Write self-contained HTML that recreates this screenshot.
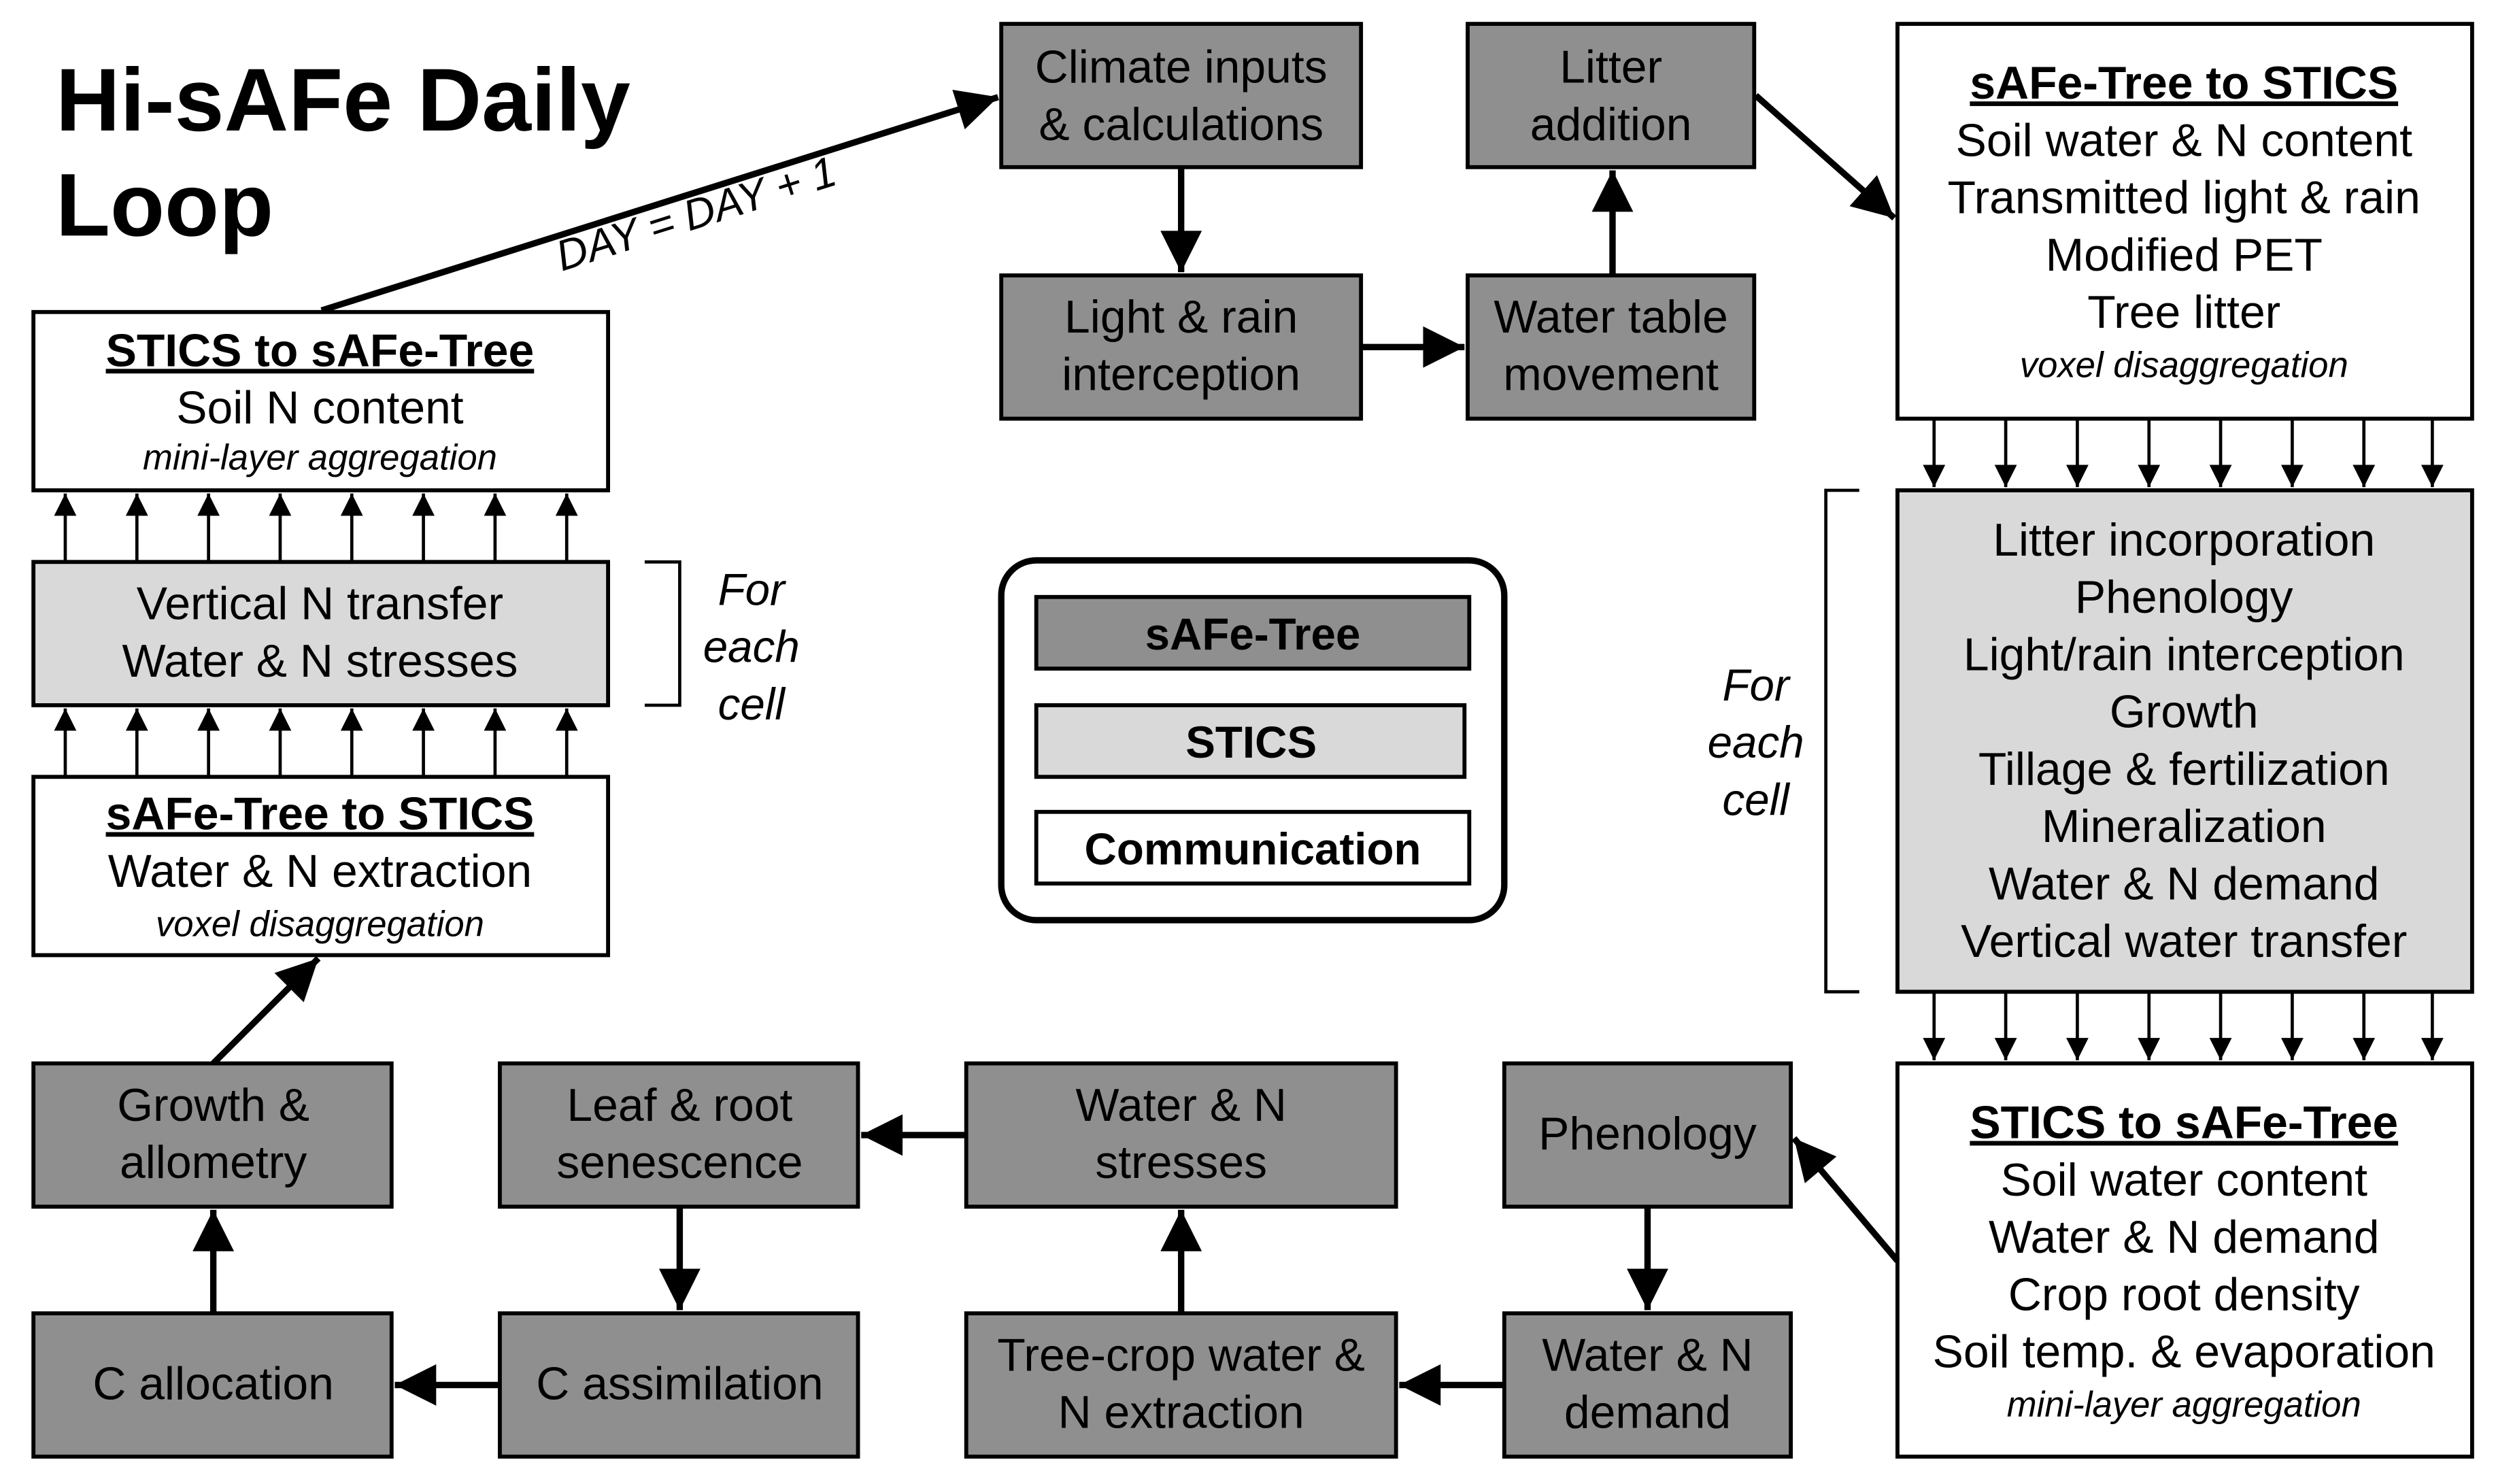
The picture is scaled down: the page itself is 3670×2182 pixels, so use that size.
<!DOCTYPE html>
<html><head><meta charset="utf-8"><style>
html,body{margin:0;padding:0;background:#fff;}
svg{display:block;}
text{font-family:"Liberation Sans",Arial,sans-serif;fill:#000;}
.t{font-size:29px;text-anchor:middle;}
.b{font-size:29px;font-weight:bold;text-anchor:middle;text-decoration:underline;}
.i{font-size:22.5px;font-style:italic;text-anchor:middle;}
.f{font-size:28px;font-style:italic;text-anchor:middle;}
.d{fill:#8f8f8f;stroke:#000;stroke-width:2.5;}
.l{fill:#d9d9d9;stroke:#000;stroke-width:2.5;}
.w{fill:#fff;stroke:#000;stroke-width:2.5;}
.a{stroke:#000;stroke-width:4;fill:none;}
.s{stroke:#000;stroke-width:2;fill:none;}
</style></head><body>
<svg width="3670" height="2182" viewBox="0 0 1568 932.2" preserveAspectRatio="none" xmlns="http://www.w3.org/2000/svg">
<defs>
<marker id="A" viewBox="0 0 10 10" refX="10" refY="5" markerWidth="7.5" markerHeight="6.5" markerUnits="strokeWidth" orient="auto"><path d="M0,0L10,5L0,10z" fill="#000"/></marker>
<marker id="S" viewBox="0 0 10 10" refX="10" refY="5" markerWidth="8" markerHeight="7" markerUnits="strokeWidth" orient="auto"><path d="M0,0L10,5L0,10z" fill="#000"/></marker>
</defs>

<text x="35" y="82" style="font-size:56px;font-weight:bold">Hi-sAFe Daily</text>
<text x="35" y="148" style="font-size:56px;font-weight:bold">Loop</text>

<!-- top row -->
<rect class="d" x="629" y="15" width="226" height="90"/>
<text class="t" x="742" y="52">Climate inputs</text><text class="t" x="742" y="88">&amp; calculations</text>
<rect class="d" x="922" y="15" width="180" height="90"/>
<text class="t" x="1012" y="52">Litter</text><text class="t" x="1012" y="88">addition</text>
<rect class="d" x="629" y="173" width="226" height="90"/>
<text class="t" x="742" y="209">Light &amp; rain</text><text class="t" x="742" y="245">interception</text>
<rect class="d" x="922" y="173" width="180" height="90"/>
<text class="t" x="1012" y="209">Water table</text><text class="t" x="1012" y="245">movement</text>

<!-- right top comm -->
<rect class="w" x="1192" y="15" width="361" height="248"/>
<text class="b" x="1372" y="62">sAFe-Tree to STICS</text>
<text class="t" x="1372" y="98">Soil water &amp; N content</text>
<text class="t" x="1372" y="134">Transmitted light &amp; rain</text>
<text class="t" x="1372" y="170">Modified PET</text>
<text class="t" x="1372" y="206">Tree litter</text>
<text class="i" x="1372" y="237">voxel disaggregation</text>

<!-- right big STICS -->
<rect class="l" x="1192" y="308" width="361" height="315"/>
<text class="t" x="1372" y="349">Litter incorporation</text>
<text class="t" x="1372" y="385">Phenology</text>
<text class="t" x="1372" y="421">Light/rain interception</text>
<text class="t" x="1372" y="457">Growth</text>
<text class="t" x="1372" y="493">Tillage &amp; fertilization</text>
<text class="t" x="1372" y="529">Mineralization</text>
<text class="t" x="1372" y="565">Water &amp; N demand</text>
<text class="t" x="1372" y="601">Vertical water transfer</text>

<!-- right bottom comm -->
<rect class="w" x="1192" y="668" width="361" height="247"/>
<text class="b" x="1372" y="715">STICS to sAFe-Tree</text>
<text class="t" x="1372" y="751">Soil water content</text>
<text class="t" x="1372" y="787">Water &amp; N demand</text>
<text class="t" x="1372" y="823">Crop root density</text>
<text class="t" x="1372" y="859">Soil temp. &amp; evaporation</text>
<text class="i" x="1372" y="890">mini-layer aggregation</text>

<!-- left column -->
<rect class="w" x="21" y="196" width="361" height="112"/>
<text class="b" x="201" y="230">STICS to sAFe-Tree</text>
<text class="t" x="201" y="266">Soil N content</text>
<text class="i" x="201" y="295">mini-layer aggregation</text>
<rect class="l" x="21" y="353" width="361" height="90"/>
<text class="t" x="201" y="389">Vertical N transfer</text>
<text class="t" x="201" y="425">Water &amp; N stresses</text>
<rect class="w" x="21" y="488" width="361" height="112"/>
<text class="b" x="201" y="521">sAFe-Tree to STICS</text>
<text class="t" x="201" y="557">Water &amp; N extraction</text>
<text class="i" x="201" y="588">voxel disaggregation</text>

<!-- legend -->
<rect x="629" y="352" width="316" height="226" rx="22" ry="22" fill="#fff" stroke="#000" stroke-width="4"/>
<rect class="d" x="651" y="375" width="272" height="45"/><text x="787" y="408" style="font-size:28px;font-weight:bold;text-anchor:middle">sAFe-Tree</text>
<rect class="l" x="651" y="443" width="269" height="45"/><text x="786" y="476" style="font-size:28px;font-weight:bold;text-anchor:middle">STICS</text>
<rect class="w" x="651" y="510" width="272" height="45"/><text x="787" y="543" style="font-size:28px;font-weight:bold;text-anchor:middle">Communication</text>

<!-- brackets -->
<path class="s" d="M405,353H427V443H405"/>
<text class="f" x="472" y="380">For</text><text class="f" x="472" y="416">each</text><text class="f" x="472" y="452">cell</text>
<path class="s" d="M1168,308H1147V623H1168"/>
<text class="f" x="1103" y="440">For</text><text class="f" x="1103" y="476">each</text><text class="f" x="1103" y="512">cell</text>

<!-- bottom rows -->
<rect class="d" x="21" y="668" width="225" height="90"/>
<text class="t" x="134" y="704">Growth &amp;</text><text class="t" x="134" y="740">allometry</text>
<rect class="d" x="314" y="668" width="225" height="90"/>
<text class="t" x="427" y="704">Leaf &amp; root</text><text class="t" x="427" y="740">senescence</text>
<rect class="d" x="607" y="668" width="270" height="90"/>
<text class="t" x="742" y="704">Water &amp; N</text><text class="t" x="742" y="740">stresses</text>
<rect class="d" x="945" y="668" width="180" height="90"/>
<text class="t" x="1035" y="722">Phenology</text>
<rect class="d" x="21" y="825" width="225" height="90"/>
<text class="t" x="134" y="879">C allocation</text>
<rect class="d" x="314" y="825" width="225" height="90"/>
<text class="t" x="427" y="879">C assimilation</text>
<rect class="d" x="607" y="825" width="270" height="90"/>
<text class="t" x="742" y="861">Tree-crop water &amp;</text><text class="t" x="742" y="897">N extraction</text>
<rect class="d" x="945" y="825" width="180" height="90"/>
<text class="t" x="1035" y="861">Water &amp; N</text><text class="t" x="1035" y="897">demand</text>

<!-- big arrows -->
<g class="a">
<path d="M202,195L627,61" marker-end="url(#A)"/>
<path d="M742,105V171" marker-end="url(#A)"/>
<path d="M855,218H920" marker-end="url(#A)"/>
<path d="M1013,173V107" marker-end="url(#A)"/>
<path d="M1103,60L1190,137" marker-end="url(#A)"/>
<path d="M1192,792L1127,715" marker-end="url(#A)"/>
<path d="M1035,758V823" marker-end="url(#A)"/>
<path d="M945,870H879" marker-end="url(#A)"/>
<path d="M742,825V760" marker-end="url(#A)"/>
<path d="M607,713H541" marker-end="url(#A)"/>
<path d="M427,758V823" marker-end="url(#A)"/>
<path d="M314,870H248" marker-end="url(#A)"/>
<path d="M134,825V760" marker-end="url(#A)"/>
<path d="M134,668L200,602" marker-end="url(#A)"/>
</g>
<text x="440" y="143" transform="rotate(-17.5 440 143)" style="font-size:27px;font-style:italic;text-anchor:middle">DAY = DAY + 1</text>

<!-- small arrows -->
<g class="s">
<path d="M41,353V310" marker-end="url(#S)"/><path d="M86,353V310" marker-end="url(#S)"/><path d="M131,353V310" marker-end="url(#S)"/><path d="M176,353V310" marker-end="url(#S)"/><path d="M221,353V310" marker-end="url(#S)"/><path d="M266,353V310" marker-end="url(#S)"/><path d="M311,353V310" marker-end="url(#S)"/><path d="M356,353V310" marker-end="url(#S)"/>
<path d="M41,488V445" marker-end="url(#S)"/><path d="M86,488V445" marker-end="url(#S)"/><path d="M131,488V445" marker-end="url(#S)"/><path d="M176,488V445" marker-end="url(#S)"/><path d="M221,488V445" marker-end="url(#S)"/><path d="M266,488V445" marker-end="url(#S)"/><path d="M311,488V445" marker-end="url(#S)"/><path d="M356,488V445" marker-end="url(#S)"/>
<path d="M1215,263V306" marker-end="url(#S)"/><path d="M1260,263V306" marker-end="url(#S)"/><path d="M1305,263V306" marker-end="url(#S)"/><path d="M1350,263V306" marker-end="url(#S)"/><path d="M1395,263V306" marker-end="url(#S)"/><path d="M1440,263V306" marker-end="url(#S)"/><path d="M1485,263V306" marker-end="url(#S)"/><path d="M1528,263V306" marker-end="url(#S)"/>
<path d="M1215,623V666" marker-end="url(#S)"/><path d="M1260,623V666" marker-end="url(#S)"/><path d="M1305,623V666" marker-end="url(#S)"/><path d="M1350,623V666" marker-end="url(#S)"/><path d="M1395,623V666" marker-end="url(#S)"/><path d="M1440,623V666" marker-end="url(#S)"/><path d="M1485,623V666" marker-end="url(#S)"/><path d="M1528,623V666" marker-end="url(#S)"/>
</g>
</svg>
</body></html>
